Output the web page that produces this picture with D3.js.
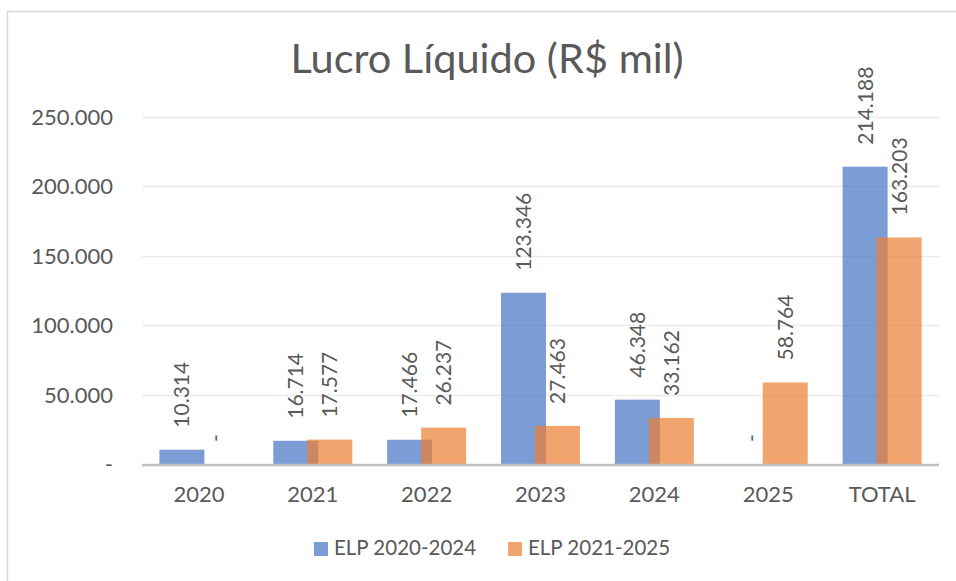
<!DOCTYPE html>
<html>
<head>
<meta charset="utf-8">
<script src="https://cdn.jsdelivr.net/npm/d3@7"></script>
<style>
  body { margin: 0; background: #fff; }
  svg { display: block; }
  text { font-family: Lato, "Open Sans", sans-serif; fill: #595959; }
</style>
</head>
<body>
<script>
// chart data
const categories = ["2020", "2021", "2022", "2023", "2024", "2025", "TOTAL"];
const seriesNames = ["ELP 2020-2024", "ELP 2021-2025"];
const elp2020 = [10314, 16714, 17466, 123346, 46348, 0, 214188];
const elp2021 = [0, 17577, 26237, 27463, 33162, 58764, 163203];
const yTicks = [0, 50000, 100000, 150000, 200000, 250000];
const title = "Lucro Líquido (R$ mil)";

const width = 956, height = 581;
const margin = {left: 142, right: 17, top: 117, bottom: 117};
const colors = ["#4472C4", "#ED7D31"];

const svg = d3.select("body").append("svg")
    .attr("width", width)
    .attr("height", height);

// outer frame
svg.append("rect")
    .attr("x", 7.5).attr("y", 11.5)
    .attr("width", 980).attr("height", 600)
    .attr("fill", "none")
    .attr("stroke", "#D9D9D9")
    .attr("stroke-width", 1.5);

const x = d3.scaleBand()
    .domain(categories)
    .range([margin.left, width - margin.right]);

const y = d3.scaleLinear()
    .domain([0, 250000])
    .range([height - margin.bottom, margin.top]);

const fmt = v => v === 0 ? "-" : d3.format(",")(v).replace(/,/g, ".");

// gridlines
svg.append("g")
    .selectAll("line")
    .data(yTicks.slice(1))
    .join("line")
    .attr("x1", x.range()[0])
    .attr("x2", x.range()[1])
    .attr("y1", d => Math.round(y(d)) + 0.5)
    .attr("y2", d => Math.round(y(d)) + 0.5)
    .attr("stroke", "#EBEBEB")
    .attr("stroke-width", 1.5);

// y labels
svg.append("g")
    .selectAll("text")
    .data(yTicks)
    .join("text")
    .attr("x", 113)
    .attr("y", d => y(d))
    .attr("dy", "0.36em")
    .attr("text-anchor", "end")
    .style("font-size", "22px")
    .text(fmt);

// bars: width 45, offset so the two series overlap a bit
const barW = 45, shift = 17;
const series = [elp2020, elp2021];

series.forEach((vals, s) => {
    const g = svg.append("g");
    const cx = (d, i) => x(categories[i]) + x.bandwidth() / 2 + (s === 0 ? -shift : shift);
    g.selectAll("rect")
        .data(vals)
        .join("rect")
        .attr("x", (d, i) => cx(d, i) - barW / 2)
        .attr("y", d => y(d))
        .attr("width", barW)
        .attr("height", d => y(0) - y(d))
        .attr("fill", colors[s])
        .attr("fill-opacity", 0.7);

    g.selectAll("text")
        .data(vals)
        .join("text")
        .attr("transform", (d, i) => `translate(${cx(d, i)},${y(d) - 22}) rotate(-90)`)
        .attr("dy", "0.36em")
        .style("font-size", "21px")
        .text(fmt);
});

// x axis line
svg.append("line")
    .attr("x1", x.range()[0])
    .attr("x2", x.range()[1])
    .attr("y1", y(0) + 1)
    .attr("y2", y(0) + 1)
    .attr("stroke", "#BFBFBF")
    .attr("stroke-width", 2.5);

// x labels
svg.append("g")
    .selectAll("text")
    .data(categories)
    .join("text")
    .attr("x", d => x(d) + x.bandwidth() / 2)
    .attr("y", 502)
    .attr("text-anchor", "middle")
    .style("font-size", "22px")
    .text(d => d);

// title
svg.append("text")
    .attr("x", 487)
    .attr("y", 73)
    .attr("text-anchor", "middle")
    .style("font-size", "41.5px")
    .text(title);

// legend
const legendX = [314, 508];
const legend = svg.append("g")
    .selectAll("g")
    .data(seriesNames)
    .join("g")
    .attr("transform", (d, i) => `translate(${legendX[i]},542)`);
legend.append("rect")
    .attr("width", 14).attr("height", 14)
    .attr("fill", (d, i) => colors[i])
    .attr("fill-opacity", 0.7);
legend.append("text")
    .attr("x", 20)
    .attr("y", 13)
    .style("font-size", "20.5px")
    .text(d => d);
</script>
</body>
</html>
